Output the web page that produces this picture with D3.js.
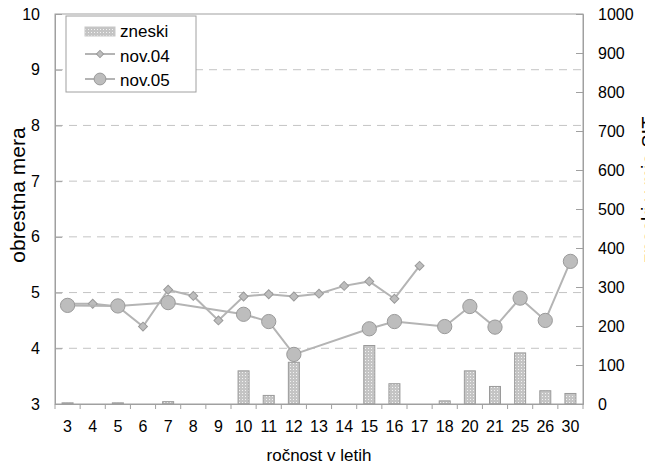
<!DOCTYPE html>
<html>
<head>
<meta charset="utf-8">
<script src="https://d3js.org/d3.v7.min.js"></script>
<style>
body { margin: 0; background: #fff; }
text { font-family: "Liberation Sans", Arial, sans-serif; fill: #000; }
</style>
</head>
<body>
<div id="chart"></div>
<script>
// ročnost (leta)
var categories = ["3","4","5","6","7","8","9","10","11","12","13","14","15","16","17","18","20","21","25","26","30"];
// zneski (desna os)
var zneski = [3, 0, 3, 0, 6, 0, 0, 85, 22, 107, 0, 0, 150, 52, 0, 8, 85, 45, 131, 34, 27];
// obrestna mera
var nov04 = [4.80, 4.80, 4.75, 4.39, 5.05, 4.94, 4.50, 4.93, 4.97, 4.93, 4.98, 5.12, 5.20, 4.89, 5.48, null, null, null, null, null, null];
var nov05 = [4.77, null, 4.76, null, 4.82, null, null, 4.61, 4.48, 3.89, null, null, 4.35, 4.48, null, 4.39, 4.75, 4.38, 4.90, 4.50, 5.56];
var leftTicks = [3, 4, 5, 6, 7, 8, 9, 10];
var rightTicks = [0, 100, 200, 300, 400, 500, 600, 700, 800, 900, 1000];

var W = 645, H = 468;
var m = {left: 55, right: 62, top: 14, bottom: 64};
var pw = W - m.left - m.right, ph = H - m.top - m.bottom;

var svg = d3.select("#chart").append("svg")
        .attr("width", W).attr("height", H);

var defs = svg.append("defs");
var pat = defs.append("pattern").attr("id", "dots")
        .attr("width", 3).attr("height", 3)
        .attr("patternUnits", "userSpaceOnUse");
pat.append("rect").attr("width", 3).attr("height", 3).attr("fill", "#c4c4c4");
pat.append("rect").attr("x", 1).attr("y", 1).attr("width", 1).attr("height", 1).attr("fill", "#f2f2f2");

var g = svg.append("g").attr("transform", "translate(" + m.left + "," + m.top + ")");

var x = d3.scaleBand().domain(categories).range([0, pw]);
var yL = d3.scaleLinear().domain([3, 10]).range([ph, 0]);
var yR = d3.scaleLinear().domain([0, 1000]).range([ph, 0]);

// gridlines
g.selectAll(".grid").data(leftTicks.filter(function(d) { return d > 3 && d < 10; }))
        .enter().append("line")
        .attr("x1", 0).attr("x2", pw)
        .attr("y1", function(d) { return yL(d); })
        .attr("y2", function(d) { return yL(d); })
        .attr("stroke", "#c4c4c4")
        .attr("stroke-dasharray", "8,6");

// bars
var bw = 11;
g.selectAll(".bar").data(zneski.map(function(v, i) { return {c: categories[i], v: v}; }).filter(function(d) { return d.v > 0; }))
        .enter().append("rect")
        .attr("x", function(d) { return x(d.c) + x.bandwidth() / 2 - bw / 2; })
        .attr("y", function(d) { return yR(d.v); })
        .attr("width", bw)
        .attr("height", function(d) { return ph - yR(d.v); })
        .attr("fill", "url(#dots)")
        .attr("stroke", "#9a9a9a")
        .attr("stroke-width", 1);

// plot border
g.append("rect").attr("width", pw).attr("height", ph)
        .attr("fill", "none").attr("stroke", "#a0a0a0");

// axes
var axL = d3.axisLeft(yL).tickValues(leftTicks).tickFormat(d3.format("d")).tickSize(-7).tickPadding(15);
var axR = d3.axisRight(yR).tickValues(rightTicks).tickFormat(d3.format("d")).tickSize(-7).tickPadding(15);
var axB = d3.axisBottom(x).tickSize(0).tickPadding(17);

function styleAxis(sel, size) {
        sel.select(".domain").attr("stroke", "#a0a0a0");
        sel.selectAll(".tick line").attr("stroke", "#a0a0a0");
        sel.selectAll("text").style("font-size", size + "px")
                .style("font-family", "Liberation Sans, Arial, sans-serif").attr("fill", "#000");
}

g.append("g").call(axL).call(styleAxis, 16);
g.append("g").attr("transform", "translate(" + pw + ",0)").call(axR).call(styleAxis, 16);
var xb = g.append("g").attr("transform", "translate(0," + ph + ")").call(axB).call(styleAxis, 16);
// category boundary ticks
xb.selectAll(".sep").data(categories.concat(["_end"]))
        .enter().append("line")
        .attr("x1", function(d, i) { return i * x.step(); })
        .attr("x2", function(d, i) { return i * x.step(); })
        .attr("y1", 0).attr("y2", 5)
        .attr("stroke", "#a0a0a0");

// lines
function drawSeries(data, shape) {
        var pts = data.map(function(v, i) { return {c: categories[i], v: v}; }).filter(function(d) { return d.v != null; });
        var line = d3.line()
                .x(function(d) { return x(d.c) + x.bandwidth() / 2; })
                .y(function(d) { return yL(d.v); });
        g.append("path").datum(pts)
                .attr("d", line)
                .attr("fill", "none")
                .attr("stroke", "#b4b4b4")
                .attr("stroke-width", 2);
        g.selectAll(".m" + shape).data(pts).enter().append("path")
                .attr("transform", function(d) {
                        return "translate(" + (x(d.c) + x.bandwidth() / 2) + "," + yL(d.v) + ")" + (shape == "d" ? " rotate(45)" : "");
                })
                .attr("d", d3.symbol().type(shape == "d" ? d3.symbolSquare : d3.symbolCircle).size(shape == "d" ? 40 : 160))
                .attr("fill", "#bdbdbd")
                .attr("stroke", "#9a9a9a")
                .attr("stroke-width", 1);
}
drawSeries(nov04, "d");
drawSeries(nov05, "c");

// legend
var lg = svg.append("g").attr("transform", "translate(66,16)");
lg.append("rect").attr("width", 130).attr("height", 76)
        .attr("fill", "#fff").attr("stroke", "#a0a0a0");
lg.append("rect").attr("x", 19).attr("y", 11).attr("width", 30).attr("height", 9)
        .attr("fill", "url(#dots)").attr("stroke", "#c8c8c8");
lg.append("line").attr("x1", 19).attr("x2", 49).attr("y1", 38).attr("y2", 38)
        .attr("stroke", "#b4b4b4").attr("stroke-width", 2);
lg.append("path").attr("transform", "translate(34,38) rotate(45)")
        .attr("d", d3.symbol().type(d3.symbolSquare).size(26))
        .attr("fill", "#bdbdbd").attr("stroke", "#9a9a9a");
lg.append("line").attr("x1", 19).attr("x2", 49).attr("y1", 63).attr("y2", 63)
        .attr("stroke", "#b4b4b4").attr("stroke-width", 2);
lg.append("path").attr("transform", "translate(34,63)")
        .attr("d", d3.symbol().type(d3.symbolCircle).size(110))
        .attr("fill", "#bdbdbd").attr("stroke", "#9a9a9a");
var names = ["zneski", "nov.04", "nov.05"];
lg.selectAll(".lt").data(names).enter().append("text")
        .attr("x", 54).attr("y", function(d, i) { return 21 + i * 24.5; })
        .style("font-size", "17px")
        .text(function(d) { return d; });

// axis titles
svg.append("text")
        .attr("transform", "translate(25,195) rotate(-90)")
        .attr("text-anchor", "middle")
        .style("font-size", "21px")
        .text("obrestna mera");
svg.append("text")
        .attr("transform", "translate(656,190) rotate(-90)")
        .attr("text-anchor", "middle")
        .style("font-size", "20px")
        .text("zneski v mio SIT");
svg.append("text")
        .attr("x", m.left + pw / 2).attr("y", 461)
        .attr("text-anchor", "middle")
        .style("font-size", "17px")
        .text("ročnost v letih");
</script>
</body>
</html>
